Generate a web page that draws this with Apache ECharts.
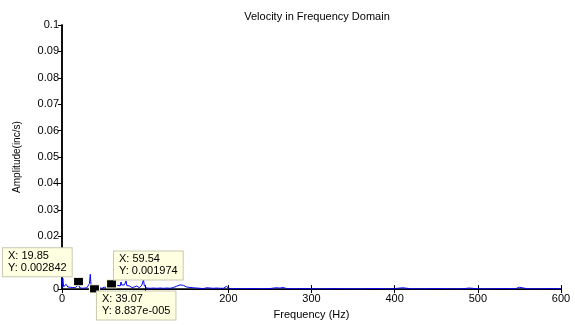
<!DOCTYPE html>
<html>
<head>
<meta charset="utf-8">
<script src="https://cdn.jsdelivr.net/npm/echarts@6/dist/echarts.min.js"></script>
<style>
  html, body { margin: 0; padding: 0; background: #fff; }
  #chart { width: 575px; height: 325px; }
</style>
</head>
<body>
<div id="chart"></div>
<script>
// Spectrum of the velocity signal: frequency (Hz) and amplitude (inc/s)
const freqHz = [
  0, 1, 2, 3, 4, 5, 6, 7, 8, 9, 10, 11, 12, 13, 14, 15, 16, 17, 18, 19, 19.85,
  21, 22, 23, 24, 25, 26, 27, 28, 29, 30, 31, 32, 33, 34, 35, 36, 37, 38, 39.07,
  40, 41, 42, 43, 44, 45, 46, 47, 48, 49, 50, 51, 52, 53, 54, 55, 56, 57, 58, 59.54,
  61, 62, 63, 64, 65, 66, 67, 68, 69, 70, 71, 72, 73, 74, 75, 76, 77, 78, 79, 80,
  81, 82, 83, 84, 85, 86, 87, 88, 89, 90, 91, 92, 93, 94, 95, 96, 97, 98, 99, 100,
  102, 104, 106, 108, 110, 112, 114, 116, 118, 120, 122, 124, 126, 128, 130,
  132, 134, 136, 138, 140, 142, 144, 146, 148, 150, 152, 154, 156, 158, 160,
  162, 164, 166, 168, 170, 172, 174, 176, 178, 180, 182, 184, 186, 188, 190,
  192, 194, 196, 198, 200, 205, 212, 220, 230, 240, 250, 257, 262, 266, 270,
  280, 290, 300, 315, 330, 345, 360, 375, 390, 400, 410, 420, 435, 450, 465,
  480, 490, 500, 515, 530, 545, 550, 560, 575, 590, 600
];
const amplitude = [
  0.0003, 0.0041, 0.0009, 0.0012, 0.0006, 0.0018, 0.0022, 0.0008, 0.0011, 0.0005, 0.0007, 0.0014, 0.0004, 0.0006, 0.0009, 0.0003, 0.0005, 0.0012, 0.0007, 0.0015, 0.002842,
  0.0006, 0.0004, 0.0008, 0.0003, 0.0005, 0.0002, 0.0004, 0.0006, 0.0003, 0.0005, 0.0004, 0.0009, 0.0021, 0.0056, 0.0012, 0.0007, 0.0004, 0.0002, 0.00008837,
  0.0003, 0.0006, 0.0011, 0.0017, 0.0008, 0.0005, 0.0004, 0.0006, 0.0003, 0.0005, 0.0004, 0.0007, 0.0005, 0.0003, 0.0006, 0.0009, 0.0005, 0.0008, 0.0012, 0.001974,
  0.0007, 0.0013, 0.0009, 0.0018, 0.0011, 0.0024, 0.0014, 0.0008, 0.0019, 0.0012, 0.0027, 0.0015, 0.0022, 0.0009, 0.0016, 0.0011, 0.0031, 0.0013, 0.0018, 0.0008,
  0.0012, 0.0007, 0.0014, 0.0006, 0.0010, 0.0005, 0.0008, 0.0004, 0.0007, 0.0012, 0.0006, 0.0009, 0.0005, 0.0011, 0.0007, 0.0015, 0.0022, 0.0036, 0.0012, 0.0006,
  0.0004, 0.0007, 0.0003, 0.0005, 0.0004, 0.0006, 0.0003, 0.0005, 0.0004, 0.0007, 0.0003, 0.0005, 0.0004, 0.0006, 0.0003,
  0.0004, 0.0006, 0.0008, 0.0011, 0.0013, 0.0016, 0.0012, 0.0014, 0.0010, 0.0008, 0.0011, 0.0006, 0.0004, 0.0005, 0.0003,
  0.0004, 0.0006, 0.0003, 0.0004, 0.0002, 0.0003, 0.0005, 0.0008, 0.0004, 0.0002, 0.0003, 0.0002, 0.0004, 0.0002, 0.0003,
  0.0002, 0.0003, 0.0002, 0.0011, 0.0003, 0.0001, 0.0002, 0.0001, 0.0002, 0.0001, 0.0002, 0.0005, 0.0004, 0.0006, 0.0002,
  0.0001, 0.0002, 0.0001, 0.0001, 0.0002, 0.0001, 0.0001, 0.0002, 0.0001, 0.0002, 0.0005, 0.0001, 0.0001, 0.0002, 0.0001,
  0.0001, 0.0004, 0.0001, 0.0001, 0.0002, 0.0001, 0.0007, 0.0001, 0.0001, 0.0002, 0.0001
];

// Data tips pinned on the spectrum
const tipFreq = [19.85, 59.54, 39.07];
const tipAmp = [0.002842, 0.001974, 0.00008837];
const tipText = [
  'X: 19.85\nY: 0.002842',
  'X: 59.54\nY: 0.001974',
  'X: 39.07\nY: 8.837e-005'
];
const tipOffset = [[-70, -29], [8, -28], [8, 7]];

// Axis ticks
const xTicks = [0, 100, 200, 300, 400, 500, 600];
const yMax = 0.1, yStep = 0.01;

const chart = echarts.init(document.getElementById('chart'), null, { renderer: 'canvas' });
const font = 'Liberation Sans, Arial, sans-serif';

const lineData = freqHz.map((f, i) => [f, amplitude[i]]);
const tipData = tipFreq.map((f, i) => ({
  value: [f, tipAmp[i]],
  label: { position: tipOffset[i], formatter: tipText[i] }
}));

const axisLine = { show: true, lineStyle: { color: '#000', width: 1 } };
const axisLineBold = { show: true, lineStyle: { color: '#000', width: 1.5 } };
const tickIn = { show: true, inside: true, length: 4, lineStyle: { color: '#000' } };

chart.setOption({
  animation: false,
  backgroundColor: '#fff',
  title: {
    text: 'Velocity in Frequency Domain',
    left: 312, top: 6, textAlign: 'center',
    textStyle: { fontFamily: font, fontSize: 11, fontWeight: 'normal', color: '#000' }
  },
  grid: { left: 62, right: 14, top: 25, bottom: 31, containLabel: false },
  xAxis: [{
    type: 'value', min: 0, max: xTicks[xTicks.length - 1], interval: 100,
    name: 'Frequency (Hz)', nameLocation: 'middle', nameGap: 17,
    nameTextStyle: { fontFamily: font, fontSize: 11, color: '#000' },
    axisLine: axisLineBold, axisTick: tickIn, splitLine: { show: false },
    axisLabel: { fontFamily: font, fontSize: 11, color: '#000', margin: 4 }
  }, {
    type: 'value', position: 'top', min: 0, max: 600, interval: 100,
    axisLine, axisTick: tickIn, axisLabel: { show: false }, splitLine: { show: false }
  }],
  yAxis: [{
    type: 'value', min: 0, max: yMax, interval: yStep,
    name: 'Amplitude(inc/s)', nameLocation: 'middle', nameGap: 40, nameRotate: 90,
    nameTextStyle: { fontFamily: font, fontSize: 10, color: '#000' },
    axisLine: axisLineBold,
    axisTick: { show: true, inside: false, length: 4, lineStyle: { color: '#000' } },
    splitLine: { show: false },
    axisLabel: {
      fontFamily: font, fontSize: 11, color: '#000', margin: 3,
      formatter: v => String(+v.toFixed(2))
    }
  }, {
    type: 'value', position: 'right', min: 0, max: yMax, interval: yStep,
    axisLine: axisLineBold, axisTick: tickIn, axisLabel: { show: false }, splitLine: { show: false }
  }],
  series: [{
    type: 'line',
    data: lineData,
    showSymbol: false,
    lineStyle: { color: '#0000ff', width: 1 },
    z: 2
  }, {
    type: 'scatter',
    data: tipData,
    symbol: 'rect',
    symbolSize: [10, 8],
    zlevel: 1,
    itemStyle: { color: '#000', borderColor: '#ffffe1', borderWidth: 1, opacity: 1 },
    label: {
      show: true,
      fontFamily: font, fontSize: 11, color: '#000', lineHeight: 12,
      backgroundColor: '#ffffe1', borderColor: '#c8c8b0', borderWidth: 1,
      padding: [2, 5, 2, 5],
      align: 'left', verticalAlign: 'top'
    },
    emphasis: { disabled: true },
    z: 10
  }]
});
</script>
</body>
</html>
